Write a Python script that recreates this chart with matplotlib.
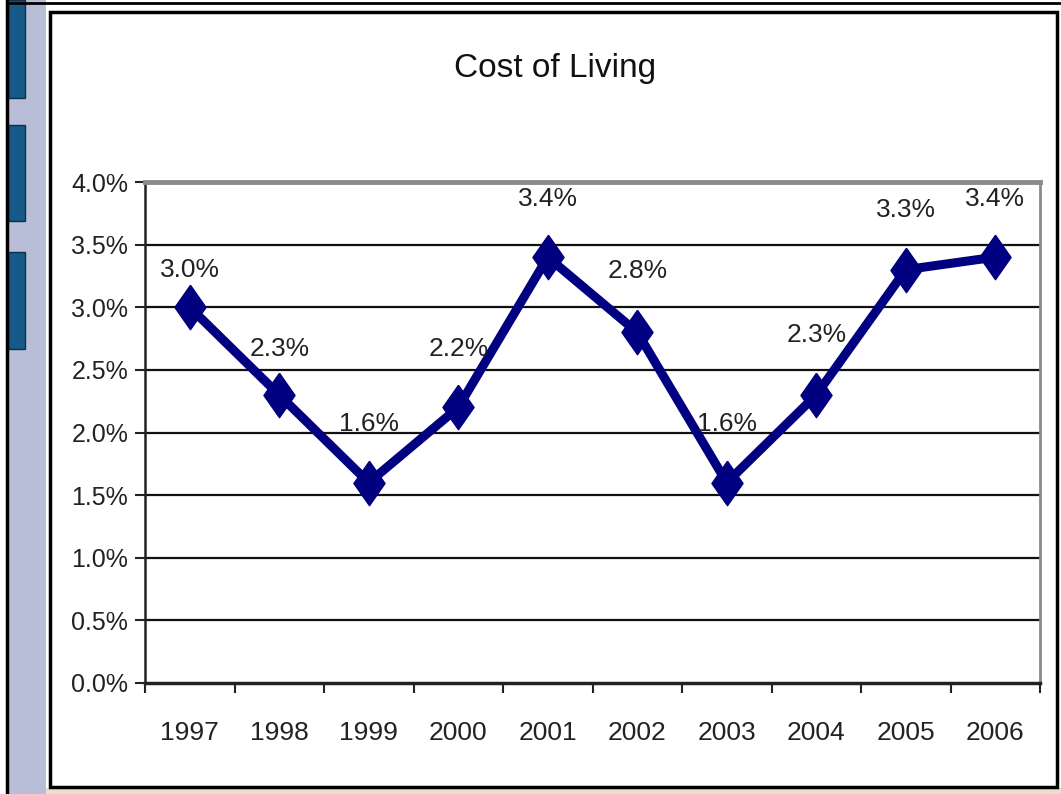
import matplotlib
matplotlib.use("Agg")
import matplotlib.pyplot as plt
from matplotlib.patches import Rectangle
from matplotlib.lines import Line2D

# chart data
years = ["1997", "1998", "1999", "2000", "2001", "2002", "2003", "2004", "2005", "2006"]
cost_of_living = [3.0, 2.3, 1.6, 2.2, 3.4, 2.8, 1.6, 2.3, 3.3, 3.4]
y_ticks = [0.0, 0.5, 1.0, 1.5, 2.0, 2.5, 3.0, 3.5, 4.0]

W, H = 1061, 794
plt.rcParams["font.family"] = ["Liberation Sans", "DejaVu Sans"]

fig = plt.figure(figsize=(W / 100, H / 100), dpi=100)
fig.patch.set_facecolor("white")

def px_rect(x0, y0, x1, y1, **kw):
    # rectangle given in pixel coords (origin top-left)
    r = Rectangle((x0 / W, 1 - y1 / H), (x1 - x0) / W, (y1 - y0) / H,
                  transform=fig.transFigure, zorder=-5, **kw)
    fig.add_artist(r)
    return r

# slide decoration: lavender strip with blue tabs
px_rect(7, 0, 46, H, facecolor="#b8bed8", edgecolor="none")
for y0, y1 in [(0, 98), (125, 221), (252, 349)]:
    px_rect(8, y0, 25, y1, facecolor="#155a88", edgecolor="#0d2f48", linewidth=1)
fig.add_artist(Line2D([7 / W, 7 / W], [0, 1], transform=fig.transFigure, color="black", lw=2.5, zorder=-4))
fig.add_artist(Line2D([7 / W, 1], [1 - 3 / H, 1 - 3 / H], transform=fig.transFigure, color="black", lw=2, zorder=-4))
px_rect(46, 788, W, H, facecolor="#e9dfcd", edgecolor="none")
# chart box
px_rect(50, 12, 1057, 787, facecolor="white", edgecolor="black", linewidth=2.5)

ax = fig.add_axes([145 / W, 1 - 683 / H, (1040 - 145) / W, (683 - 182) / H])
ax.set_facecolor("none")
ax.set_zorder(5)

x = list(range(len(years)))
diamond = [(0, 1), (0.7, 0), (0, -1), (-0.7, 0), (0, 1)]
ax.plot(x, cost_of_living, color="#000080", lw=6.5, marker=diamond, markersize=32,
        markerfacecolor="#000080", markeredgecolor="#000080", zorder=5)

label_dy = [-27, -33, -42, -42, -42, -44, -42, -43, -43, -42]
for xi, v, dy in zip(x, cost_of_living, label_dy):
    ax.annotate(f"{v:.1f}%", (xi, v), xytext=(0, -dy), textcoords="offset points",
                ha="center", va="center", fontsize=19, color="#222222", zorder=6)

ax.set_xlim(-0.5, len(years) - 0.5)
ax.set_ylim(0, 4.0)

ax.set_yticks(y_ticks)
ax.set_yticklabels([f"{t:.1f}%" for t in y_ticks], fontsize=18, color="#222222")
ax.tick_params(axis="y", length=7, width=1.5, pad=5, color="#222222")
for t in y_ticks[1:-1]:
    ax.axhline(t, color="#111111", lw=1.6, zorder=1)

ax.set_xticks([i - 0.5 for i in range(len(years) + 1)])
ax.set_xticklabels([])
ax.tick_params(axis="x", which="major", length=7, width=1.5, color="#222222")
ax.set_xticks(x, minor=True)
ax.set_xticklabels(years, minor=True, fontsize=19, color="#222222")
ax.tick_params(axis="x", which="minor", length=0, pad=27)

for side in ["left", "bottom"]:
    ax.spines[side].set_color("#222222")
ax.spines["left"].set_linewidth(1.8)
ax.spines["bottom"].set_linewidth(2.5)
ax.spines["top"].set_color("#8a8a8a")
ax.spines["top"].set_linewidth(3.5)
ax.spines["right"].set_color("#8a8a8a")
ax.spines["right"].set_linewidth(2)

fig.text(555 / W, 1 - 68 / H, "Cost of Living", ha="center", va="center",
         fontsize=24, color="#111111")

fig.savefig("out.png", dpi=100)
